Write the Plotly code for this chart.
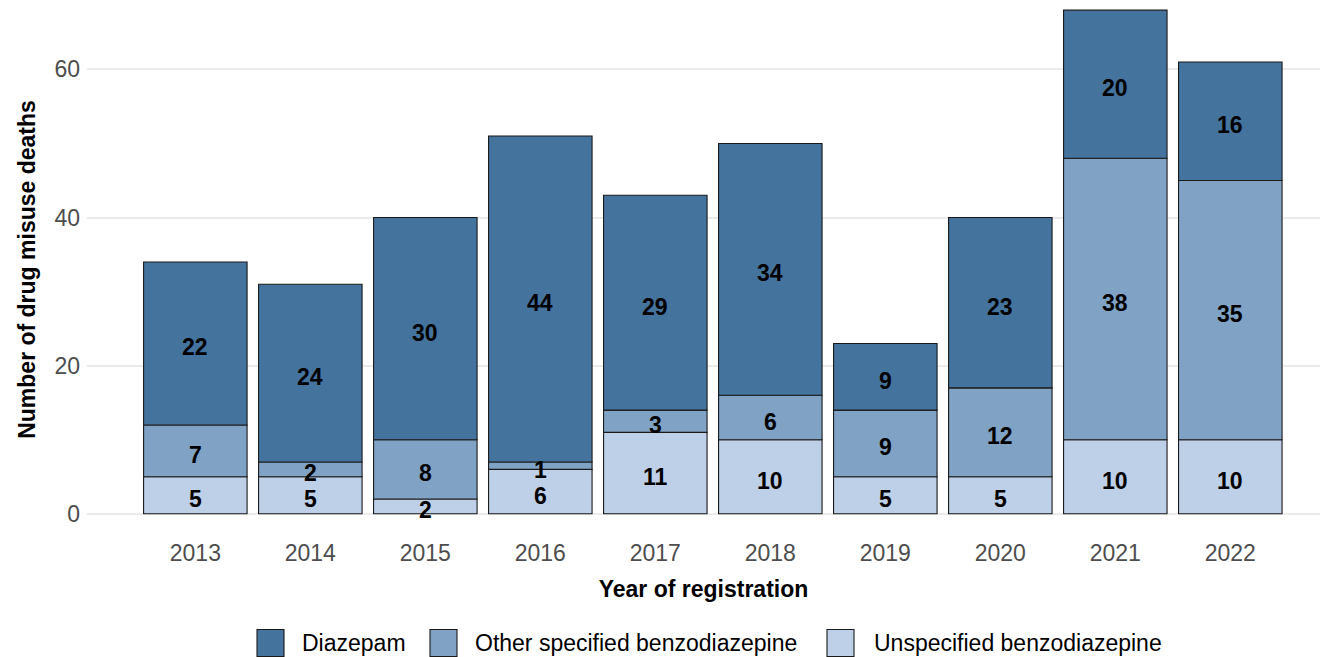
import numpy as np
import plotly.graph_objects as go

years = ["2013", "2014", "2015", "2016", "2017", "2018", "2019", "2020", "2021", "2022"]
unspecified = [5, 5, 2, 6, 11, 10, 5, 5, 10, 10]
other_specified = [7, 2, 8, 1, 3, 6, 9, 12, 38, 35]
diazepam = [22, 24, 30, 44, 29, 34, 9, 23, 20, 16]
y_ticks = [0, 20, 40, 60]

series_names = ["Diazepam", "Other specified benzodiazepine", "Unspecified benzodiazepine"]
colors = {"Diazepam": "#44739e", "Other specified benzodiazepine": "#7fa2c5",
          "Unspecified benzodiazepine": "#bed0e8"}

W, H = 1321, 657
L, R, T, B = 87, 1, 0, 118
FONT = "Liberation Sans, Arial, sans-serif"

fig = go.Figure()
stack = [("Unspecified benzodiazepine", unspecified),
         ("Other specified benzodiazepine", other_specified),
         ("Diazepam", diazepam)]
base = np.zeros(len(years))
for name, vals in stack:
    v = np.array(vals, dtype=float)
    fig.add_trace(go.Bar(
        x=years, y=v, base=base, name=name, width=0.9,
        marker=dict(color=colors[name], line=dict(color="#1a1a1a", width=1.1)),
        showlegend=False, hoverinfo="x+y+name"))
    for i, yr in enumerate(years):
        fig.add_annotation(x=i, y=float(base[i] + v[i] / 2), text=f"<b>{int(v[i])}</b>",
                           showarrow=False, yshift=-4, xref="x", yref="y",
                           font=dict(family=FONT, size=23, color="black"))
    base = base + v

fig.update_layout(
    width=W, height=H,
    margin=dict(l=L, r=R, t=T, b=B, pad=0),
    plot_bgcolor="white", paper_bgcolor="white",
    barmode="overlay",
    font=dict(family=FONT, size=23, color="black"),
    xaxis=dict(
        type="category", range=[-0.942, 9.78],
        showgrid=False, zeroline=False, showline=False,
        ticks="", tickfont=dict(family=FONT, size=23, color="#4d4d4d"),
        ticklabelstandoff=-2,
        title=dict(text="<b>Year of registration</b>", font=dict(family=FONT, size=23, color="black"), standoff=15),
    ),
    yaxis=dict(
        range=[-3.4, 69.37], tickvals=y_ticks,
        showgrid=True, gridcolor="#ebebeb", gridwidth=2,
        zeroline=False, showline=False, ticks="",
        tickfont=dict(family=FONT, size=23, color="#4d4d4d"),
        ticklabelstandoff=6,
        title=dict(text="<b>Number of drug misuse deaths</b>", font=dict(family=FONT, size=23, color="black"), standoff=12),
    ),
)

# manual legend (ggplot-style large keys) in paper coordinates
def px_x(px):
    return (px - L) / (W - L - R)

def px_y(py):
    return (H - B - py) / (H - T - B)

legend_items = [("Diazepam", 257, 300), ("Other specified benzodiazepine", 430, 473),
                ("Unspecified benzodiazepine", 827, 872)]
key = 27
yc = 643
for name, kx, tx in legend_items:
    fig.add_shape(type="rect", xref="paper", yref="paper",
                  x0=px_x(kx), x1=px_x(kx + key), y0=px_y(yc - key / 2), y1=px_y(yc + key / 2),
                  fillcolor=colors[name], line=dict(color="#1a1a1a", width=1.1))
    fig.add_annotation(xref="paper", yref="paper", x=px_x(tx), y=px_y(yc),
                       xanchor="left", yanchor="middle", text=name, showarrow=False,
                       font=dict(family=FONT, size=23, color="black"))

fig.write_html("out.html", config={"displayModeBar": False},
               post_script="document.body.style.margin='0';document.body.style.overflow='hidden';")
